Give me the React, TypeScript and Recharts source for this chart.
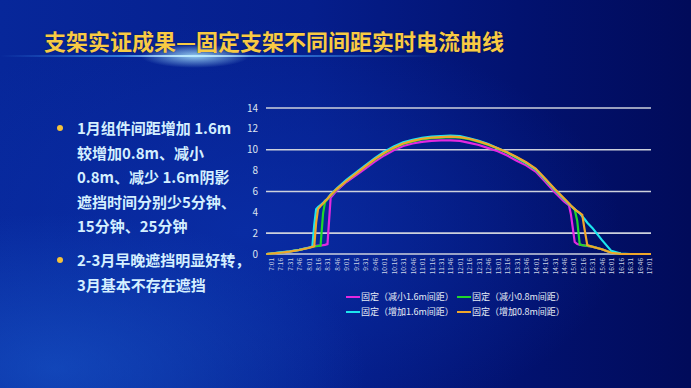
import { LineChart, Line, XAxis, YAxis, CartesianGrid } from "recharts";

// minutes after 7:01
const minutes = [
  -7, 0, 15, 30, 45, 60, 66, 69, 72, 75, 79, 83, 86, 90, 95,
  105, 120, 135, 150, 165, 180, 195, 210, 225, 240, 255, 270, 285, 300, 315,
  330, 345, 360, 375, 390, 405, 420, 435, 450, 465,
  473, 476, 482, 486, 490, 494, 497, 502,
  510, 525, 540, 555, 570, 585, 600, 603,
];

const jianxiao16 = [
  0, 0.04, 0.14, 0.24, 0.4, 0.62, 0.72, 0.75, 0.78, 0.8, 0.82, 0.85, 0.88, 0.95, 5.4,
  6.1, 6.9, 7.55, 8.2, 8.85, 9.45, 9.95, 10.35, 10.6, 10.75, 10.85, 10.9, 10.9, 10.85, 10.65,
  10.45, 10.15, 9.85, 9.45, 8.95, 8.5, 7.9, 6.95, 5.95, 5.05,
  4.65, 3.8, 1.15, 0.95, 0.9, 0.85, 0.82, 0.78,
  0.7, 0.45, 0.12, 0.02, 0, 0, 0, 0,
];

const jianxiao08 = [
  0, 0.04, 0.14, 0.24, 0.4, 0.6, 0.7, 0.72, 0.74, 0.77, 0.8, 3.9, 4.95, 5.25, 5.6,
  6.2, 7.0, 7.7, 8.4, 9.05, 9.65, 10.15, 10.55, 10.8, 11.0, 11.1, 11.15, 11.2, 11.15, 11.0,
  10.75, 10.45, 10.1, 9.7, 9.2, 8.7, 8.1, 7.15, 6.15, 5.25,
  4.8, 4.6, 4.25, 3.2, 0.9, 0.85, 0.82, 0.78,
  0.7, 0.45, 0.12, 0.02, 0, 0, 0, 0,
];

const zengjia16 = [
  0, 0.05, 0.15, 0.25, 0.4, 0.6, 0.7, 2.8, 4.3, 4.5, 4.7, 4.9, 5.1, 5.3, 5.7,
  6.3, 7.1, 7.8, 8.5, 9.2, 9.8, 10.3, 10.7, 10.95, 11.15, 11.25, 11.3, 11.35, 11.3, 11.1,
  10.85, 10.55, 10.15, 9.75, 9.25, 8.75, 8.15, 7.2, 6.2, 5.3,
  4.8, 4.6, 4.3, 4.1, 3.9, 3.6, 3.4, 3.0,
  2.5, 1.35, 0.3, 0.05, 0, 0, 0, 0,
];

const zengjia08 = [
  0, 0.03, 0.12, 0.22, 0.38, 0.58, 0.68, 0.75, 3.0, 4.3, 4.6, 4.85, 5.05, 5.3, 5.65,
  6.25, 7.0, 7.7, 8.4, 9.1, 9.7, 10.2, 10.6, 10.85, 11.05, 11.15, 11.2, 11.25, 11.2, 11.05,
  10.8, 10.5, 10.15, 9.75, 9.3, 8.8, 8.2, 7.25, 6.25, 5.35,
  4.85, 4.65, 4.3, 4.1, 3.95, 3.75, 2.6, 0.85,
  0.7, 0.45, 0.12, 0.02, 0, 0, 0, 0,
];

const timeLabels = [
  "7:01", "7:16", "7:31", "7:46", "8:01", "8:16", "8:31", "8:46", "9:01", "9:16", "9:31", "9:46",
  "10:01", "10:16", "10:31", "10:46", "11:01", "11:16", "11:31", "11:46", "12:01", "12:16", "12:31", "12:46",
  "13:01", "13:16", "13:31", "13:46", "14:01", "14:16", "14:31", "14:46", "15:01", "15:16", "15:31", "15:46",
  "16:01", "16:16", "16:31", "16:46", "17:01",
];

const yTicks = [0, 2, 4, 6, 8, 10, 12, 14];

const series = [
  { key: "j16", name: "固定（减小1.6m间距）", color: "#e428e0", values: jianxiao16 },
  { key: "j08", name: "固定（减小0.8m间距）", color: "#1fd82a", values: jianxiao08 },
  { key: "z16", name: "固定（增加1.6m间距）", color: "#1de6ee", values: zengjia16 },
  { key: "z08", name: "固定（增加0.8m间距）", color: "#f0a62a", values: zengjia08 },
];

const bullets = [
  ["1月组件间距增加 1.6m", "较增加0.8m、减小", "0.8m、减少 1.6m阴影", "遮挡时间分别少5分钟、", "15分钟、25分钟"],
  ["2-3月早晚遮挡明显好转，", "3月基本不存在遮挡"],
];

const toMin = (label: string) => {
  const [h, m] = label.split(":").map(Number);
  return (h - 7) * 60 + (m - 1);
};

const data = minutes.map((t, i) => {
  const row: Record<string, number> = { t };
  series.forEach((s) => (row[s.key] = s.values[i]));
  return row;
});

const FONT = '"Noto Sans CJK SC", "Noto Sans", sans-serif';

function TimeTick({ x, y, payload }: any) {
  const label = timeLabels.find((l) => toMin(l) === payload.value) ?? "";
  return (
    <text
      transform={`translate(${x},${y}) rotate(-90)`}
      textAnchor="end"
      dominantBaseline="central"
      fontSize={6.5}
      fill="#c9d2e4"
      fontFamily={FONT}
    >
      {label}
    </text>
  );
}

export default function App() {
  return (
    <div
      style={{
        position: "absolute",
        left: 0,
        top: 0,
        width: 691,
        height: 388,
        overflow: "hidden",
        fontFamily: FONT,
        background:
          "radial-gradient(ellipse 45% 40% at 8% 95%, rgba(25,90,205,0.6), rgba(25,90,205,0) 100%), radial-gradient(ellipse 55% 55% at 35% 60%, rgba(10,48,170,0.75), rgba(10,48,170,0) 100%), linear-gradient(90deg, #07279a 0%, #051e8c 45%, #021270 75%, #010b5a 100%)",
      }}
    >
      {/* flare under the title */}
      <div
        style={{
          position: "absolute",
          left: 0,
          top: 55,
          width: 440,
          height: 2,
          background:
            "linear-gradient(90deg, rgba(60,140,255,0) 0%, rgba(70,165,255,0.7) 28%, #f0faff 44%, rgba(70,165,255,0.7) 60%, rgba(60,140,255,0) 100%)",
        }}
      />
      <div
        style={{
          position: "absolute",
          left: 140,
          top: 44,
          width: 110,
          height: 24,
          borderRadius: "50%",
          background: "radial-gradient(ellipse at center, rgba(170,230,255,0.85), rgba(60,150,255,0) 70%)",
        }}
      />
      <div
        style={{
          position: "absolute",
          left: 44,
          top: 24,
          fontSize: 22,
          fontWeight: 700,
          color: "#f8ca44",
          whiteSpace: "nowrap",
          textShadow: "0 0 2px rgba(0,0,0,0.4)",
        }}
      >
        支架实证成果—固定支架不同间距实时电流曲线
      </div>

      {bullets.map((lines, bi) => (
        <div
          key={bi}
          style={{ position: "absolute", left: 77, top: bi === 0 ? 116 : 248, color: "#d4efff" }}
        >
          <div
            style={{
              position: "absolute",
              left: -20,
              top: 9,
              width: 6,
              height: 6,
              borderRadius: 3,
              background: "#f5c23a",
            }}
          />
          {lines.map((l) => (
            <div key={l} style={{ fontSize: 15, fontWeight: 700, lineHeight: "24.6px", whiteSpace: "nowrap" }}>
              {l}
            </div>
          ))}
        </div>
      ))}

      <div style={{ position: "absolute", left: 0, top: 0 }}>
        <LineChart
          width={691}
          height={388}
          data={data}
          margin={{ top: 108, right: 40, bottom: 109, left: 246 }}
        >
          <CartesianGrid vertical={false} stroke="#cdd1dc" strokeWidth={1.6} />
          <XAxis
            dataKey="t"
            type="number"
            domain={[-7.5, 603]}
            ticks={timeLabels.map(toMin)}
            interval={0}
            tick={<TimeTick />}
            tickLine={false}
            axisLine={false}
            tickSize={0}
            tickMargin={4}
            height={25}
          />
          <YAxis
            domain={[0, 14]}
            ticks={yTicks}
            width={20}
            tickLine={false}
            axisLine={false}
            tickSize={6}
            tickMargin={2}
            tick={{ fill: "#dde3ee", fontSize: 10, fontFamily: FONT }}
          />
          {series.map((s) => (
            <Line
              key={s.key}
              dataKey={s.key}
              name={s.name}
              type="linear"
              stroke={s.color}
              strokeWidth={2.2}
              dot={false}
              isAnimationActive={false}
            />
          ))}
        </LineChart>
      </div>

      {/* legend */}
      {series.map((s, i) => (
        <div
          key={s.key}
          style={{
            position: "absolute",
            left: i % 2 === 0 ? 346 : 457,
            top: i < 2 ? 290 : 305,
            display: "flex",
            alignItems: "center",
            fontSize: 9,
            color: "#e6ecf6",
            whiteSpace: "nowrap",
            height: 13,
          }}
        >
          <span style={{ display: "inline-block", width: 14, height: 2, background: s.color, marginRight: 1 }} />
          {s.name}
        </div>
      ))}
    </div>
  );
}
